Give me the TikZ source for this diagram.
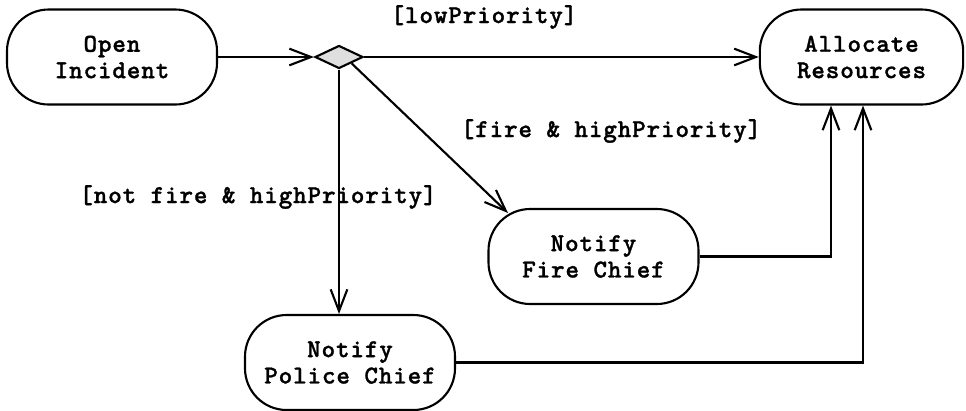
\documentclass[tikz,border=0pt]{standalone}
\usepackage{fontspec}
\newfontfamily\diagfont{lmmonolt10-bold.otf}[LetterSpace=3.5,FakeBold=1.2]
\usetikzlibrary{arrows.meta,shapes.geometric,calc}
\begin{document}
\begin{tikzpicture}[x=0.03cm,y=-0.03cm,
  txt/.style={font=\diagfont\fontsize{22}{22.5}\selectfont},
  act/.style={txt, draw, line width=1.8pt, rounded corners=1.25cm, minimum width=6.3cm, minimum height=2.85cm, align=center, inner sep=0pt},
  dec/.style={draw, diamond, fill=gray!25, line width=1.8pt, minimum width=1.44cm, minimum height=0.69cm, inner sep=0pt},
  flow/.style={line width=1.8pt, -{Straight Barb[length=0.65cm,width=0.5cm,line width=1.8pt]}},
  guard/.style={txt, inner sep=0pt}]
\useasboundingbox (0,0) rectangle (966,410);
\node[act] (open) at (112,57) {Open\\Incident};
\node[dec] (d) at (339,57) {};
\node[act, minimum width=6.1cm] (alloc) at (861.5,57) {Allocate\\Resources};
\node[act] (fire) at (593.5,256.5) {Notify\\Fire Chief};
\node[act] (police) at (350,362.5) {Notify\\Police Chief};
\coordinate (fireIn) at (508,213);
\node[guard] (lowlbl) at (484,17) {[lowPriority]};
\node[guard] (firelbl) at (611,131) {[fire \& highPriority]};
\node[guard] (notlbl) at (258,197) {[not fire \& highPriority]};
\draw[flow] (open) -- (d);
\draw[flow] (d) -- (alloc);
\draw[flow] (d.south east) -- (fireIn);
\draw[flow] (d.south) -- (d.south |- police.north);
\draw[flow] (fire.east) -| ([xshift=-0.915cm]alloc.south);
\draw[flow] (police.east) -| ([xshift=0.045cm]alloc.south);
\end{tikzpicture}
\end{document}
